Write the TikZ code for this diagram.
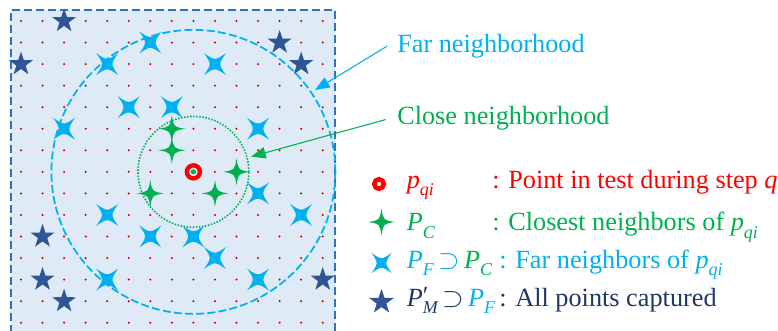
\documentclass[tikz,border=0pt]{standalone}
\usepackage{fontspec}
\setmainfont{Liberation Serif}
\usetikzlibrary{arrows.meta}
\definecolor{bgblue}{HTML}{DEEBF7}
\definecolor{borderblue}{HTML}{2E75B6}
\definecolor{dotred}{HTML}{C00000}
\definecolor{farblue}{HTML}{00B0F0}
\definecolor{closegreen}{HTML}{00B050}
\definecolor{starnavy}{HTML}{2F5597}
\definecolor{textnavy}{HTML}{1F3864}
\definecolor{ptred}{HTML}{FF0000}
\newcommand\vsub[2]{{\itshape #1}\raisebox{-0.28em}{\fontsize{13.5pt}{14pt}\selectfont\itshape #2}}
\newcommand\vsubp[2]{{\itshape #1}\rlap{\raisebox{0.05em}{′}}\raisebox{-0.28em}{\fontsize{13.5pt}{14pt}\selectfont\itshape #2}}
\newcommand\sups{\,$\supset$\,}
\begin{document}
\begin{tikzpicture}[x=0.75pt,y=-0.75pt,
  lbl/.style={inner sep=0pt, anchor=base west, font=\fontsize{19.7pt}{23pt}\selectfont},
  arr/.style={line width=0.8pt, -{Triangle[length=11pt,width=8.5pt]}},
  gstar/.pic={\fill[closegreen] (0,-13.5) .. controls (1.8,-1.8) .. (13.5,0) .. controls (1.8,1.8) .. (0,13.5) .. controls (-1.8,1.8) .. (-13.5,0) .. controls (-1.8,-1.8) .. cycle;},
  xstar/.pic={\fill[farblue, rotate=45] (0,-15.5) .. controls (2.4,-2.4) .. (15.5,0) .. controls (2.4,2.4) .. (0,15.5) .. controls (-2.4,2.4) .. (-15.5,0) .. controls (-2.4,-2.4) .. cycle;},
  nstar/.pic={\fill[starnavy] (-90:12.5) \foreach \k in {1,...,9} { -- ({-90+36*\k}:{mod(\k,2)==1 ? 4.9 : 12.5}) } -- cycle;},
]
\useasboundingbox (0,0) rectangle (778,331);
% field
\fill[bgblue] (11,10) rectangle (335,345);
\draw[borderblue, line width=1.3pt, dash pattern=on 6pt off 3pt] (11,345) -- (11,10) -- (335,10) -- (335,345);
\foreach \i in {0,...,14} \foreach \j in {0,...,14}
  \fill[dotred] ({21+21.55*\i},{21+21.55*\j}) circle (0.85pt);
\coordinate (c) at ({21+21.55*8},{21+21.55*7});
\draw[farblue, line width=1.3pt, dash pattern=on 6pt off 2.4pt] (c) circle (106.5pt);
\draw[closegreen, line width=1.2pt, dash pattern=on 1.1pt off 1.2pt] (c) circle (41.6pt);
% neighbours
\foreach \i/\j in {6/1,4/2,9/2,5/4,7/4,2/5,11/5,11/8,13/9,4/9,6/10,8/10,9/11,4/12,11/12}
  \pic at ({21+21.55*\i},{21+21.55*\j}) {xstar};
\foreach \i/\j in {2/0,0/2,12/1,13/2,1/10,1/12,2/13,14/12}
  \pic at ({21+21.55*\i},{21+21.55*\j}) {nstar};
\foreach \i/\j in {7/5,7/6,6/8,9/8,10/7}
  \pic at ({21+21.55*\i},{21+21.55*\j}) {gstar};
% point in test
\fill[white] (c) circle (3.4pt);
\draw[ptred, line width=3.3pt] (c) circle (4.9pt);
\fill[closegreen] (c) circle (2pt);
% labels and arrows
\node[lbl, text=farblue] (farlabel) at (397,52.5) {Far neighborhood};
\node[lbl, text=closegreen] (closelabel) at (397,124.5) {Close neighborhood};
\coordinate (fartip) at (315,90);
\coordinate (closetip) at (251,156.7);
\draw[arr, farblue] ([xshift=-7.5pt]farlabel.west) -- (fartip);
\draw[arr, closegreen] ([xshift=-8.5pt,yshift=-1pt]closelabel.west) -- (closetip);
% legend
\coordinate (lg1) at (379,184);
\fill[white] (lg1) circle (2pt);
\draw[ptred, line width=3.4pt] (lg1) circle (3.6pt);
\pic at (381.5,222) {gstar};
\pic[scale=0.92] at (381.5,263) {xstar};
\pic[scale=1.04] at (381.5,302) {nstar};
\node[lbl, text=ptred] (l1m) at (406.5,188.5) {\vsub{p}{qi}};
\node[lbl, text=ptred] (l1t) at (492,188.5) {: Point in test during step \textit{q}};
\node[lbl, text=closegreen] (l2m) at (406.5,231) {\vsub{P}{C}};
\node[lbl, text=closegreen] (l2t) at (492,231) {: Closest neighbors of \vsub{p}{qi}};
\node[lbl, text=farblue] (l3m) at (406.5,268.5) {\vsub{P}{F}\sups\textcolor{closegreen}{\vsub{P}{C}}};
\node[lbl, text=farblue] (l3t) at (499,268.5) {: Far neighbors of \vsub{p}{qi}};
\node[lbl, text=textnavy] (l4m) at (406.5,306) {\vsubp{P}{M}\sups\textcolor{farblue}{\vsub{P}{F}}};
\node[lbl, text=textnavy] (l4t) at (499,306) {: All points captured};
\end{tikzpicture}
\end{document}
